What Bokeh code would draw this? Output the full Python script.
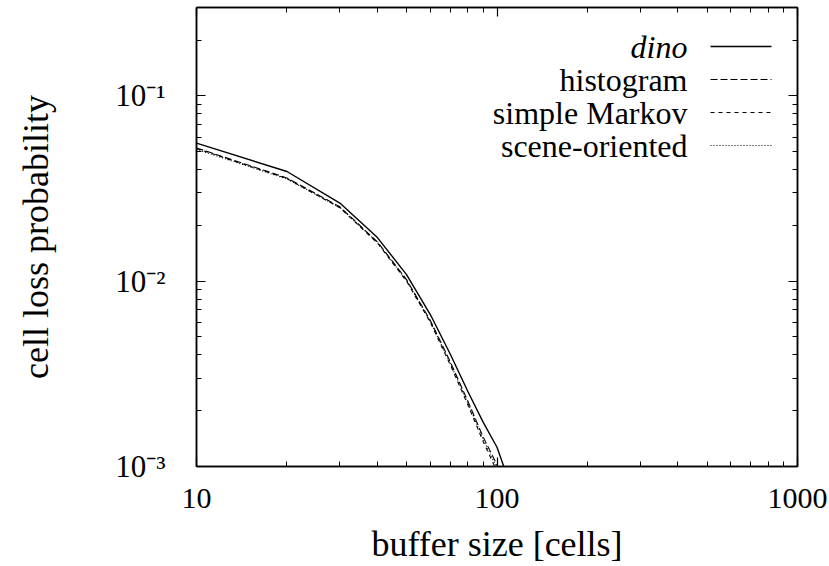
from bokeh.plotting import figure
from bokeh.models import LogAxis, FixedTicker, Label, Arrow, Range1d
from bokeh.embed import file_html
from bokeh.resources import INLINE

# ---- data ----
buffer_size = [10, 20, 30, 40, 50, 60, 70, 80, 90, 100, 110]
dino = [0.0556, 0.0391, 0.0264, 0.0172, 0.01085, 0.00661, 0.00402, 0.00254, 0.00173, 0.00127, 0.00082]
histogram = [0.0524, 0.0361, 0.0252, 0.0163, 0.0102, 0.00614, 0.00365, 0.00225, 0.00144, 0.00102, 0.00062]
simple_markov = [0.0520, 0.0358, 0.0249, 0.0161, 0.0100, 0.00600, 0.00352, 0.00215, 0.00136, 0.00094, 0.00058]
scene_oriented = [0.0515, 0.0356, 0.0250, 0.0162, 0.0101, 0.00606, 0.00358, 0.00220, 0.00140, 0.00098, 0.00060]

series_names = ["dino", "histogram", "simple Markov", "scene-oriented"]
x_ticks = [10, 100, 1000]
x_tick_labels = ["10", "100", "1000"]
y_ticks = [0.1, 0.01, 0.001]
y_tick_labels = ["10\u207b\u00b9", "10\u207b\u00b2", "10\u207b\u00b3"]
x_title = "buffer size [cells]"
y_title = "cell loss probability"

# ---- layout ----
W, H = 829, 566
FL, FT, FR, FB = 196, 7, 797, 467
FONT = "Liberation Serif"

def sx(cx):
    return cx - FL

def sy(cy):
    return FB - cy

p = figure(width=W, height=H, x_axis_type="log", y_axis_type="log",
           x_range=Range1d(10, 1000), y_range=Range1d(0.001, 0.3),
           output_backend="svg", toolbar_location=None,
           min_border_left=FL, min_border_right=W - FR,
           min_border_top=FT, min_border_bottom=H - FB)
p.xgrid.visible = False
p.ygrid.visible = False
p.outline_line_color = "black"
p.outline_line_width = 1.5
p.background_fill_color = "white"
p.border_fill_color = "white"

x_minor = [m * 10 ** k for k in (1, 2) for m in range(2, 10)]
y_minor = [m * 10.0 ** k for k in (-3, -2, -1) for m in range(2, 10)]

def style_axis(ax, ticks, minor, labels=None):
    ax.ticker = FixedTicker(ticks=ticks, minor_ticks=minor)
    ax.axis_line_width = 1.5
    ax.axis_line_color = "black"
    ax.major_tick_in = 9
    ax.major_tick_out = 0
    ax.minor_tick_in = 5
    ax.minor_tick_out = 0
    ax.major_tick_line_width = 1.2
    ax.minor_tick_line_width = 1.0
    if labels is None:
        ax.major_label_overrides = {t: "" for t in ticks}
        ax.major_label_standoff = 0
    else:
        ax.major_label_overrides = {t: s for t, s in zip(ticks, labels)}
        ax.major_label_text_font = FONT
        ax.major_label_text_font_size = "30px"
        ax.major_label_text_color = "black"
    ax.axis_label_text_font = FONT
    ax.axis_label_text_font_size = "36px"
    ax.axis_label_text_font_style = "normal"
    ax.axis_label_text_color = "black"

xa = p.xaxis[0]
style_axis(xa, x_ticks, x_minor, x_tick_labels)
xa.major_label_standoff = 22
xa.axis_label = x_title
xa.axis_label_standoff = 13

ya = p.yaxis[0]
style_axis(ya, y_ticks, y_minor, y_tick_labels)
ya.major_label_text_font_size = "31px"
ya.major_label_standoff = 31
ya.axis_label = y_title
ya.axis_label_standoff = 56

top = LogAxis()
style_axis(top, x_ticks, x_minor)
p.add_layout(top, "above")
right = LogAxis()
style_axis(right, y_ticks, y_minor)
p.add_layout(right, "right")

# ---- curves ----
p.line(buffer_size, dino, line_color="black", line_width=1.4)
p.line(buffer_size, histogram, line_color="black", line_width=1.1, line_dash="7 3")
p.line(buffer_size, simple_markov, line_color="black", line_width=1.1, line_dash="4 4")
p.line(buffer_size, scene_oriented, line_color="black", line_width=1.1, line_dash="1 2")

# ---- legend (text left of sample) ----
rows_y = [47, 80, 113, 146]
dashes = ["solid", "7 3", "4 4", "1 2"]
widths = [1.4, 1.1, 1.1, 1.1]
styles = ["italic", "normal", "normal", "normal"]
for name, cy, d, lw, st in zip(series_names, rows_y, dashes, widths, styles):
    p.add_layout(Label(x=sx(687), y=sy(cy), x_units="screen", y_units="screen",
                       text=name, text_align="right", text_baseline="middle",
                       text_font=FONT, text_font_size="32px", text_font_style=st,
                       text_color="black"))
    p.add_layout(Arrow(x_start=sx(710), y_start=sy(cy), x_end=sx(771), y_end=sy(cy),
                       start_units="screen", end_units="screen", end=None,
                       line_color="black", line_width=lw, line_dash=d))

open("out.html", "w").write(file_html(p, INLINE))
